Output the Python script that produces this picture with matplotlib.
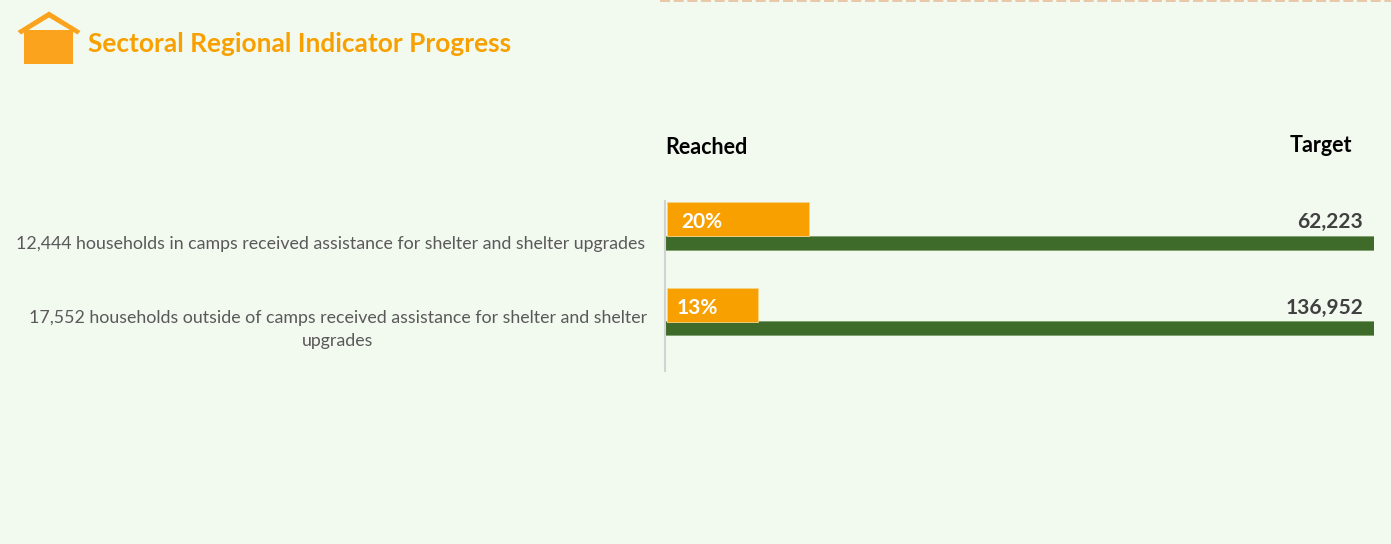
import matplotlib
matplotlib.use('Agg')
import matplotlib.pyplot as plt
import numpy as np

from matplotlib.patches import Polygon

plt.rcParams['font.family'] = ['Lato', 'DejaVu Sans']

categories = ['12,444 households in camps received assistance for shelter and shelter upgrades',
              '17,552 households outside of camps received assistance for shelter and shelter\nupgrades']
reached = [12444, 17552]
target = [62223, 136952]
pct_labels = ['20%', '13%']
target_labels = ['62,223', '136,952']

BG = '#F2FAF0'
ORANGE = '#F7A000'
GREEN = '#3F6B2A'
W, H = 1391, 544

fig = plt.figure(figsize=(W / 100, H / 100), dpi=100, facecolor=BG)

# overlay in pixel coords for the header stuff
bg = fig.add_axes([0, 0, 1, 1])
bg.set_xlim(0, W)
bg.set_ylim(H, 0)
bg.axis('off')

# house icon
icon = '#FBA31C'
bg.add_patch(Polygon([[24, 30], [73, 30], [73, 64], [24, 64]], color=icon, lw=0))
bg.add_patch(Polygon([[17.5, 31], [49, 11.5], [80.5, 31], [77.5, 34.5], [49, 17.5], [21, 34.5]], color=icon, lw=0))

bg.text(88, 43.5, 'Sectoral Regional Indicator Progress', color=ORANGE, fontsize=18.93,
        fontweight='bold', va='center', ha='left')
bg.text(665, 147.5, 'Reached', color='black', fontsize=15.5, fontweight='bold', va='center', ha='left')
bg.text(1290, 145, 'Target', color='black', fontsize=15.5, fontweight='bold', va='center', ha='left')

# dashed line along the top edge
bg.plot([660, W], [0.5, 0.5], color='#E8BE9C', lw=1.2, dashes=(6, 2.2))

# the bars
ax = fig.add_axes([665 / W, (H - 371) / H, (1374 - 665) / W, 170 / H])
ax.patch.set_alpha(0)
ax.set_xlim(0, 1)
ax.set_ylim(1.69, -0.29)
y = np.arange(len(categories))
share = np.array(reached) / np.array(target)

ax.barh(y + 16.7 / 86, np.ones(len(y)), height=14 / 86, color=GREEN, edgecolor='#7F9F70', lw=0.6, zorder=2)
ax.barh(y - 7 / 86, share, height=34 / 86, left=0.003, color=ORANGE, edgecolor='#F5D58A', lw=0.6, zorder=3)

for s in ['top', 'right', 'bottom']:
    ax.spines[s].set_visible(False)
ax.spines['left'].set_color('#D2D2D2')
ax.spines['left'].set_linewidth(1.5)
ax.set_xticks([])
ax.set_yticks([])

# labels, offsets are in points from the bar ends
pct_offset = [12, 8.5]
for i in y:
    ax.annotate(pct_labels[i], (0, i - 7 / 86), xytext=(pct_offset[i], -2), textcoords='offset points',
                color='white', fontsize=15, fontweight='bold', va='center', ha='left', zorder=4)
    ax.annotate(target_labels[i], (1, i - 7 / 86), xytext=(-7.9, -2), textcoords='offset points',
                color='#404040', fontsize=15, fontweight='bold', va='center', ha='right')

bg.text(331, 244, categories[0], color='#595959', fontsize=12.8, va='center', ha='center')
bg.text(338, 329.5, categories[1], color='#595959', fontsize=12.8, va='center', ha='center', linespacing=1.5,
        multialignment='center')

fig.savefig('out.png', dpi=100, facecolor=BG)
